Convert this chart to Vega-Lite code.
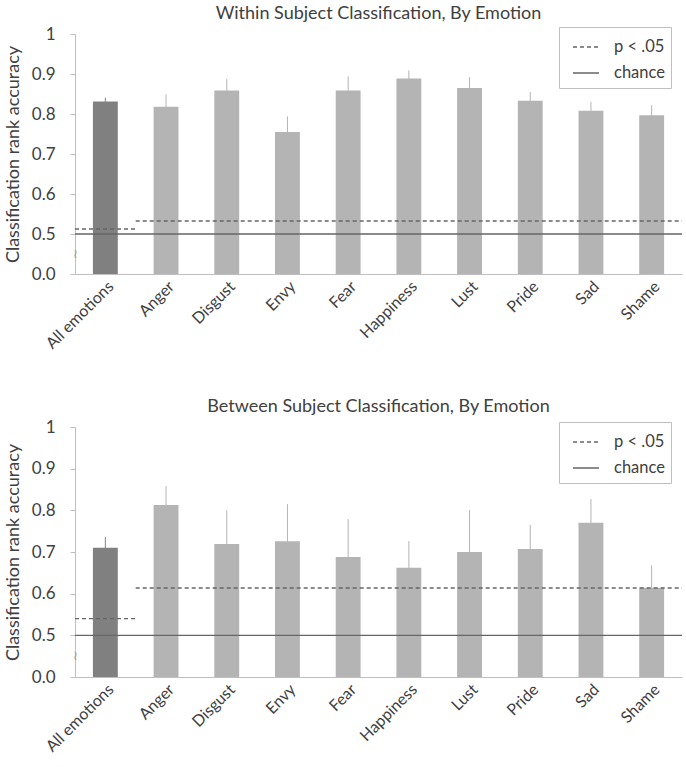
{
  "$schema": "https://vega.github.io/schema/vega-lite/v6.json",
  "padding": {"top": 5, "left": 4, "right": 3, "bottom": 2},
  "background": "white",
  "datasets": {
    "within": [
      {"cat": "All emotions", "grp": "all", "v": 0.831, "lo": 0.821, "hi": 0.841},
      {"cat": "Anger", "grp": "emo", "v": 0.818, "lo": 0.788, "hi": 0.849},
      {"cat": "Disgust", "grp": "emo", "v": 0.859, "lo": 0.832, "hi": 0.888},
      {"cat": "Envy", "grp": "emo", "v": 0.755, "lo": 0.716, "hi": 0.794},
      {"cat": "Fear", "grp": "emo", "v": 0.859, "lo": 0.823, "hi": 0.894},
      {"cat": "Happiness", "grp": "emo", "v": 0.889, "lo": 0.865, "hi": 0.909},
      {"cat": "Lust", "grp": "emo", "v": 0.865, "lo": 0.838, "hi": 0.892},
      {"cat": "Pride", "grp": "emo", "v": 0.833, "lo": 0.813, "hi": 0.855},
      {"cat": "Sad", "grp": "emo", "v": 0.808, "lo": 0.786, "hi": 0.830},
      {"cat": "Shame", "grp": "emo", "v": 0.797, "lo": 0.772, "hi": 0.822}
    ],
    "between": [
      {"cat": "All emotions", "grp": "all", "v": 0.710, "lo": 0.686, "hi": 0.736},
      {"cat": "Anger", "grp": "emo", "v": 0.813, "lo": 0.766, "hi": 0.858},
      {"cat": "Disgust", "grp": "emo", "v": 0.719, "lo": 0.637, "hi": 0.800},
      {"cat": "Envy", "grp": "emo", "v": 0.726, "lo": 0.634, "hi": 0.815},
      {"cat": "Fear", "grp": "emo", "v": 0.688, "lo": 0.596, "hi": 0.779},
      {"cat": "Happiness", "grp": "emo", "v": 0.662, "lo": 0.598, "hi": 0.726},
      {"cat": "Lust", "grp": "emo", "v": 0.700, "lo": 0.600, "hi": 0.801},
      {"cat": "Pride", "grp": "emo", "v": 0.707, "lo": 0.650, "hi": 0.765},
      {"cat": "Sad", "grp": "emo", "v": 0.770, "lo": 0.712, "hi": 0.827},
      {"cat": "Shame", "grp": "emo", "v": 0.614, "lo": 0.558, "hi": 0.668}
    ],
    "refWithin": [
      {"type": "p < .05", "x0": 0, "x1": 1, "y": 0.5125},
      {"type": "p < .05", "x0": 1, "x1": 10, "y": 0.5325},
      {"type": "chance", "x0": 0, "x1": 10, "y": 0.5}
    ],
    "refBetween": [
      {"type": "p < .05", "x0": 0, "x1": 1, "y": 0.540},
      {"type": "p < .05", "x0": 1, "x1": 10, "y": 0.6136},
      {"type": "chance", "x0": 0, "x1": 10, "y": 0.5}
    ],
    "brk": [{"x": 0, "y": 0.45}]
  },
  "resolve": {"scale": {"strokeDash": "independent", "y": "independent"}, "legend": {"strokeDash": "independent"}},
  "spacing": 46,
  "vconcat": [
    {
      "title": {"text": "Within Subject Classification, By Emotion", "offset": 2},
      "width": 607,
      "height": 240,
      "resolve": {"scale": {"x": "independent"}, "axis": {"x": "independent"}},
      "layer": [
        {
          "data": {"name": "within"},
          "encoding": {
            "x": {"field": "cat", "type": "nominal", "sort": null,
              "scale": {"paddingInner": 0.59, "paddingOuter": 0.295},
              "axis": {"title": null, "labelAngle": -45, "ticks": false, "labelPadding": 4, "labelFontSize": 16}},
            "y": {"type": "quantitative", "scale": {"domain": [0.4, 1], "nice": false, "zero": false},
              "axis": {"title": "Classification rank accuracy", "values": [0.4, 0.5, 0.6, 0.7, 0.8, 0.9, 1.0], "labelOverlap": false,
                "labelExpr": "datum.value < 0.45 ? '0.0' : datum.value > 0.95 ? '1' : format(datum.value, '.1f')"}}
          },
          "layer": [
            {"mark": {"type": "bar"}, "encoding": {"y": {"field": "v"}, "y2": {"datum": 0.4},
              "color": {"field": "grp", "type": "nominal", "scale": {"domain": ["all", "emo"], "range": ["#808080", "#b4b4b4"]}, "legend": null}}},
            {"mark": {"type": "rule", "strokeWidth": 1}, "encoding": {"y": {"field": "lo"}, "y2": {"field": "hi"},
              "color": {"field": "grp", "type": "nominal", "scale": {"domain": ["all", "emo"], "range": ["#404040", "#8c8c8c"]}, "legend": null}}}
          ]
        },
        {
          "layer": [
            {
              "data": {"name": "refWithin"},
              "mark": {"type": "rule", "color": "#666666", "strokeWidth": 1.3},
              "encoding": {
                "x": {"field": "x0", "type": "quantitative", "scale": {"domain": [0, 10], "nice": false, "zero": false}, "axis": null},
                "x2": {"field": "x1"},
                "y": {"field": "y", "type": "quantitative",
                  "axis": {"title": "Classification rank accuracy", "values": [0.4, 0.5, 0.6, 0.7, 0.8, 0.9, 1.0], "labelOverlap": false,
                    "labelExpr": "datum.value < 0.45 ? '0.0' : datum.value > 0.95 ? '1' : format(datum.value, '.1f')"}},
                "strokeDash": {"field": "type", "type": "nominal",
                  "scale": {"domain": ["p < .05", "chance"], "range": [[4, 3], [1, 0]]},
                  "legend": {"title": "\u00a0\u00a0\u00a0\u00a0\u00a0\u00a0\u00a0\u00a0\u00a0\u00a0", "titleOrient": "right", "titlePadding": 0, "titleFontSize": 16, "orient": "none", "legendX": 484, "legendY": -7,
                    "symbolType": "stroke", "symbolSize": 676, "symbolOffset": 7, "symbolStrokeColor": "#666666", "symbolStrokeWidth": 1.3,
                    "labelFontSize": 16.5, "labelColor": "#404040", "labelOffset": 14, "rowPadding": 3,
                    "padding": 6, "strokeColor": "#bfbfbf", "fillColor": "white"}}
              }
            },
            {
              "data": {"name": "brk"},
              "mark": {"type": "text", "text": "≀", "color": "#999999", "fontSize": 13},
              "encoding": {
                "x": {"field": "x", "type": "quantitative"},
                "y": {"field": "y", "type": "quantitative",
                  "axis": {"title": "Classification rank accuracy", "values": [0.4, 0.5, 0.6, 0.7, 0.8, 0.9, 1.0], "labelOverlap": false,
                    "labelExpr": "datum.value < 0.45 ? '0.0' : datum.value > 0.95 ? '1' : format(datum.value, '.1f')"}}
              }
            }
          ]
        }
      ]
    },
    {
      "title": {"text": "Between Subject Classification, By Emotion", "offset": 2},
      "width": 607,
      "height": 250,
      "resolve": {"scale": {"x": "independent"}, "axis": {"x": "independent"}},
      "layer": [
        {
          "data": {"name": "between"},
          "encoding": {
            "x": {"field": "cat", "type": "nominal", "sort": null,
              "scale": {"paddingInner": 0.59, "paddingOuter": 0.295},
              "axis": {"title": null, "labelAngle": -45, "ticks": false, "labelPadding": 4, "labelFontSize": 16}},
            "y": {"type": "quantitative", "scale": {"domain": [0.4, 1], "nice": false, "zero": false},
              "axis": {"title": "Classification rank accuracy", "values": [0.4, 0.5, 0.6, 0.7, 0.8, 0.9, 1.0], "labelOverlap": false,
                "labelExpr": "datum.value < 0.45 ? '0.0' : datum.value > 0.95 ? '1' : format(datum.value, '.1f')"}}
          },
          "layer": [
            {"mark": {"type": "bar"}, "encoding": {"y": {"field": "v"}, "y2": {"datum": 0.4},
              "color": {"field": "grp", "type": "nominal", "scale": {"domain": ["all", "emo"], "range": ["#808080", "#b4b4b4"]}, "legend": null}}},
            {"mark": {"type": "rule", "strokeWidth": 1}, "encoding": {"y": {"field": "lo"}, "y2": {"field": "hi"},
              "color": {"field": "grp", "type": "nominal", "scale": {"domain": ["all", "emo"], "range": ["#404040", "#8c8c8c"]}, "legend": null}}}
          ]
        },
        {
          "layer": [
            {
              "data": {"name": "refBetween"},
              "mark": {"type": "rule", "color": "#666666", "strokeWidth": 1.3},
              "encoding": {
                "x": {"field": "x0", "type": "quantitative", "scale": {"domain": [0, 10], "nice": false, "zero": false}, "axis": null},
                "x2": {"field": "x1"},
                "y": {"field": "y", "type": "quantitative",
                  "axis": {"title": "Classification rank accuracy", "values": [0.4, 0.5, 0.6, 0.7, 0.8, 0.9, 1.0], "labelOverlap": false,
                    "labelExpr": "datum.value < 0.45 ? '0.0' : datum.value > 0.95 ? '1' : format(datum.value, '.1f')"}},
                "strokeDash": {"field": "type", "type": "nominal",
                  "scale": {"domain": ["p < .05", "chance"], "range": [[4, 3], [1, 0]]},
                  "legend": {"title": "\u00a0\u00a0\u00a0\u00a0\u00a0\u00a0\u00a0\u00a0\u00a0\u00a0", "titleOrient": "right", "titlePadding": 0, "titleFontSize": 16, "orient": "none", "legendX": 484, "legendY": -5,
                    "symbolType": "stroke", "symbolSize": 676, "symbolOffset": 7, "symbolStrokeColor": "#666666", "symbolStrokeWidth": 1.3,
                    "labelFontSize": 16.5, "labelColor": "#404040", "labelOffset": 14, "rowPadding": 3,
                    "padding": 6, "strokeColor": "#bfbfbf", "fillColor": "white"}}
              }
            },
            {
              "data": {"name": "brk"},
              "mark": {"type": "text", "text": "≀", "color": "#999999", "fontSize": 13},
              "encoding": {
                "x": {"field": "x", "type": "quantitative"},
                "y": {"field": "y", "type": "quantitative",
                  "axis": {"title": "Classification rank accuracy", "values": [0.4, 0.5, 0.6, 0.7, 0.8, 0.9, 1.0], "labelOverlap": false,
                    "labelExpr": "datum.value < 0.45 ? '0.0' : datum.value > 0.95 ? '1' : format(datum.value, '.1f')"}}
              }
            }
          ]
        }
      ]
    }
  ],
  "config": {
    "view": {"stroke": null},
    "font": "Lato",
    "axis": {"domainColor": "#bfbfbf", "tickColor": "#bfbfbf", "labelColor": "#404040", "titleColor": "#404040",
      "grid": false, "labelFontSize": 17, "titleFontSize": 18, "titleFontWeight": "normal", "tickSize": 5, "labelPadding": 15, "titlePadding": 9},
    "axisY": {"labelOverlap": false},
    "title": {"fontSize": 18, "fontWeight": "normal", "color": "#404040"}
  }
}
